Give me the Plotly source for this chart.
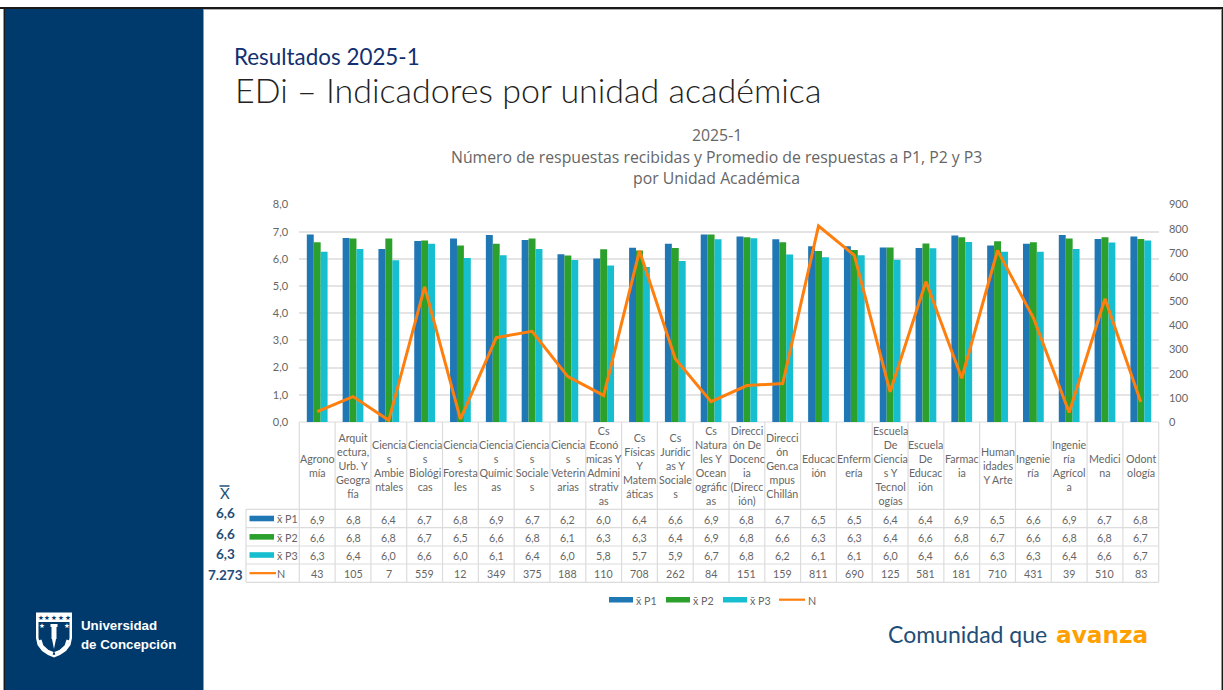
import plotly.graph_objects as go

# ---------- data ----------
categories = ["Agrono<br>mía", "Arquit<br>ectura,<br>Urb. Y<br>Geogra<br>fía", "Ciencia<br>s<br>Ambie<br>ntales",
              "Ciencia<br>s<br>Biológi<br>cas", "Ciencia<br>s<br>Foresta<br>les", "Ciencia<br>s<br>Químic<br>as",
              "Ciencia<br>s<br>Sociale<br>s", "Ciencia<br>s<br>Veterin<br>arias",
              "Cs<br>Econó<br>micas Y<br>Admini<br>strativ<br>as", "Cs<br>Físicas<br>Y<br>Matem<br>áticas",
              "Cs<br>Jurídic<br>as Y<br>Sociale<br>s", "Cs<br>Natura<br>les Y<br>Ocean<br>ográfic<br>as",
              "Direcci<br>ón De<br>Docenc<br>ia<br>(Direcc<br>ión)", "Direcci<br>ón<br>Gen.ca<br>mpus<br>Chillán",
              "Educac<br>ión", "Enferm<br>ería", "Escuela<br>De<br>Ciencia<br>s Y<br>Tecnol<br>ogías",
              "Escuela<br>De<br>Educac<br>ión", "Farmac<br>ia", "Human<br>idades<br>Y Arte", "Ingenie<br>ría",
              "Ingenie<br>ría<br>Agrícol<br>a", "Medici<br>na", "Odont<br>ología"]
p1 = [6.90, 6.77, 6.36, 6.66, 6.75, 6.88, 6.69, 6.17, 6.01, 6.41, 6.56, 6.90,
      6.82, 6.72, 6.46, 6.46, 6.42, 6.40, 6.86, 6.49, 6.56, 6.88, 6.73, 6.82]
p2 = [6.61, 6.75, 6.75, 6.68, 6.49, 6.56, 6.75, 6.12, 6.35, 6.31, 6.40, 6.90,
      6.80, 6.61, 6.29, 6.33, 6.42, 6.57, 6.80, 6.65, 6.61, 6.75, 6.80, 6.73]
p3 = [6.26, 6.36, 5.95, 6.56, 6.03, 6.13, 6.36, 5.96, 5.76, 5.70, 5.92, 6.72,
      6.76, 6.16, 6.06, 6.13, 5.97, 6.39, 6.62, 6.26, 6.26, 6.36, 6.60, 6.68]
n = [43, 105, 7, 559, 12, 349, 375, 188, 110, 708, 262, 84, 151, 159, 811, 690,
     125, 581, 181, 710, 431, 39, 510, 83]
row_means = ["6,6", "6,6", "6,3", "7.273"]
series_names = ["x̄ P1", "x̄ P2", "x̄ P3", "N"]
series_colors = ["#1f77b4", "#2ca02c", "#17becf", "#ff7f0e"]

W, H = 1223, 690
NAVY = "#003a6c"
GREY = "#666666"
TEXT_FONT = "Lato"
def X(p): return p / W
def Y(p): return 1 - p / H

shapes, ann = [], []
def rect(x0, y0, x1, y1, fill, layer="below"):
    shapes.append(dict(type="rect", xref="paper", yref="paper", x0=X(x0), x1=X(x1), y0=Y(y0), y1=Y(y1),
                       fillcolor=fill, line_width=0, layer=layer))
def line(x0, y0, x1, y1, color, width, layer="below"):
    shapes.append(dict(type="line", xref="paper", yref="paper", x0=X(x0), x1=X(x1), y0=Y(y0), y1=Y(y1),
                       line=dict(color=color, width=width), layer=layer))
def text(x, y, s, size, color=GREY, anchor="center", family=TEXT_FONT, weight=None):
    f = dict(size=size, color=color, family=family)
    if weight: f["weight"] = weight
    ann.append(dict(xref="paper", yref="paper", x=X(x), y=Y(y), text=s, showarrow=False, xanchor=anchor,
                    yanchor="middle", align="center", font=f, borderpad=0, borderwidth=0))

# ---------- slide frame ----------
rect(4, 8, 203, 690, NAVY)
line(203.5, 8, 203.5, 690, "#7f9dbd", 1)
line(0, 8, W, 8, "#1a1a1a", 2)
line(4.3, 8, 4.3, 690, "#1a1a1a", 1.5)
line(1222.3, 8, 1222.3, 690, "#1a1a1a", 1.5)
line(204, 9.5, 1222, 9.5, "#b0b0b0", 1)

# ---------- slide titles ----------
text(234, 56, "Resultados 2025-1", 22.4, "#12306f", "left", "Lato")
text(235, 89.5, "EDi – Indicadores por unidad académica", 34, "#222222", "left", "Lato", 300)

# ---------- chart title ----------
text(717, 135, "2025-1", 15.8, family="Open Sans")
text(717, 156.5, "Número de respuestas recibidas y Promedio de respuestas a P1, P2 y P3", 15.8, family="Open Sans")
text(717, 178.5, "por Unidad Académica", 15.8, family="Open Sans")

# ---------- data table ----------
L_TABLE, L_CELLS, R_TABLE = 246, 299.3, 1158.7
T_TABLE = 422
ROWS = [509.3, 527.7, 546, 564, 582.3]
TCOL = "#dcdcdc"
cell_w = (R_TABLE - L_CELLS) / len(categories)
for i in range(len(categories) + 1):
    xx = L_CELLS + i * cell_w
    line(xx, T_TABLE, xx, ROWS[-1], TCOL, 1.2)
for yy in ROWS:
    line(L_TABLE, yy, R_TABLE, yy, TCOL, 1.2)
line(L_TABLE, ROWS[0], L_TABLE, ROWS[-1], TCOL, 1.2)
line(L_CELLS, T_TABLE, R_TABLE, T_TABLE, TCOL, 1.2)

table_rows = [[f"{v:.1f}".replace(".", ",") for v in p1],
              [f"{v:.1f}".replace(".", ",") for v in p2],
              [f"{v:.1f}".replace(".", ",") for v in p3],
              [str(v) for v in n]]
for i, c in enumerate(categories):
    cx = L_CELLS + (i + .5) * cell_w
    text(cx, 465.2, c, 10.7)
    for r, row in enumerate(table_rows):
        text(cx, (ROWS[r] + ROWS[r + 1]) / 2 + .5, row[i], 10.7)

for r in range(4):
    cy = (ROWS[r] + ROWS[r + 1]) / 2
    if r < 3:
        rect(249.5, cy - 2.8, 274, cy + 2.8, series_colors[r])
    else:
        line(249.5, cy, 276, cy, series_colors[r], 2.2)
    text(276.7, cy + .3, series_names[r], 10.7, anchor="left")
    text(225, 513 + r * 20.7, row_means[r], 13.5, "#1f4e79", weight=700)

text(224.5, 493, "X", 15, "#1f4e79", weight=400)
line(219.5, 486, 229.5, 486, "#1f4e79", 1.5)

# ---------- chart legend ----------
leg_x = [609, 666, 723, 779]
for k in range(4):
    if k < 3:
        rect(leg_x[k], 597, leg_x[k] + 24, 602.5, series_colors[k])
        text(leg_x[k] + 27, 600, series_names[k], 10.7, anchor="left")
    else:
        line(leg_x[k], 599.7, leg_x[k] + 26, 599.7, series_colors[k], 2.2)
        text(leg_x[k] + 29, 600, series_names[k], 10.7, anchor="left")

# ---------- logo ----------
def pth(pts, close=True):
    s = "M " + " L ".join(f"{X(a):.5f},{Y(b):.5f}" for a, b in pts)
    return s + (" Z" if close else "")
shield = [(36, 612.5), (72, 612.5), (72, 638), (70.5, 645), (66, 651), (60, 655), (54, 657.5), (48, 655),
          (42, 651), (37.5, 645), (36, 638)]
inner = [(38.5, 622), (69.5, 622), (69.5, 638), (68, 644), (64, 649.5), (59, 653), (54, 655), (49, 653),
         (44, 649.5), (40, 644), (38.5, 638)]
shapes.append(dict(type="path", xref="paper", yref="paper", path=pth(shield), fillcolor="#ffffff", line_width=0))
shapes.append(dict(type="path", xref="paper", yref="paper", path=pth(inner), fillcolor=NAVY, line_width=0))
for sx in [40.5, 47, 54, 61, 67.5]:
    text(sx, 617.5, "★", 6.5, NAVY, family="DejaVu Sans")
for sx in [41.5, 66.5]:
    text(sx, 625.5, "★", 6.5, "#ffffff", family="DejaVu Sans")
rect(50.5, 624, 57.5, 627, "#ffffff", "above")
rect(51.5, 627, 56.5, 639, "#ffffff", "above")
shapes.append(dict(type="path", xref="paper", yref="paper", path=pth([(52, 639), (56, 639), (54, 649)]),
                   fillcolor="#ffffff", line_width=0))
shapes.append(dict(type="path", xref="paper", yref="paper", path=pth([(40, 640), (42, 646), (48, 651.5), (53, 653.5)], False),
                   line=dict(color="#ffffff", width=3)))
shapes.append(dict(type="path", xref="paper", yref="paper", path=pth([(68, 640), (66, 646), (60, 651.5), (55, 653.5)], False),
                   line=dict(color="#ffffff", width=3)))
text(80.5, 625.5, "Universidad", 13.3, "#ffffff", "left", "Liberation Sans", 700)
text(80.5, 644, "de Concepción", 13.3, "#ffffff", "left", "Liberation Sans", 700)

# ---------- tagline ----------
text(888, 633.5, "Comunidad que", 23, "#1f4e79", "left", "Lato")
text(1056, 634, "avanza", 23.2, "#ffa000", "left", "DejaVu Sans", 700)

# ---------- traces ----------
fig = go.Figure()
for name, vals, col in zip(series_names[:3], [p1, p2, p3], series_colors[:3]):
    fig.add_trace(go.Bar(x=categories, y=vals, name=name, marker=dict(color=col, line_width=0)))
fig.add_trace(go.Scatter(x=categories, y=n, name=series_names[3], yaxis="y2", mode="lines",
                         line=dict(color=series_colors[3], width=3)))

fig.update_layout(
    width=W, height=H, margin=dict(l=0, r=0, t=0, b=0), autosize=False,
    paper_bgcolor="#ffffff", plot_bgcolor="rgba(0,0,0,0)",
    showlegend=False, barmode="group", bargap=0.42, bargroupgap=0, separators=",.",
    font=dict(family=TEXT_FONT, color=GREY, size=11),
    shapes=shapes, annotations=ann,
    xaxis=dict(domain=[X(L_CELLS), X(R_TABLE)], showticklabels=False, showgrid=False, zeroline=False, automargin=False,
               showline=False, ticks="", type="category", categoryorder="array", categoryarray=categories),
    yaxis=dict(domain=[Y(422), Y(204.5)], range=[0, 8], dtick=1, tickformat=".1f", gridcolor="#e4e4e4",
               gridwidth=1.5, zeroline=False, showline=False, ticks="outside", ticklen=8, tickcolor="rgba(0,0,0,0)",
               automargin=False, tickfont=dict(size=11, color=GREY)),
    yaxis2=dict(domain=[Y(422), Y(204.5)], overlaying="y", side="right", range=[0, 900], dtick=100, automargin=False,
                ticks="outside", ticklen=7, tickcolor="rgba(0,0,0,0)",
                showgrid=False, zeroline=False, showline=False, tickformat="d", tickfont=dict(size=11, color=GREY)),
)
fig.write_html("out.html", post_script="document.body.style.margin='0';document.body.style.overflow='hidden';",
               config={"displayModeBar": False})
